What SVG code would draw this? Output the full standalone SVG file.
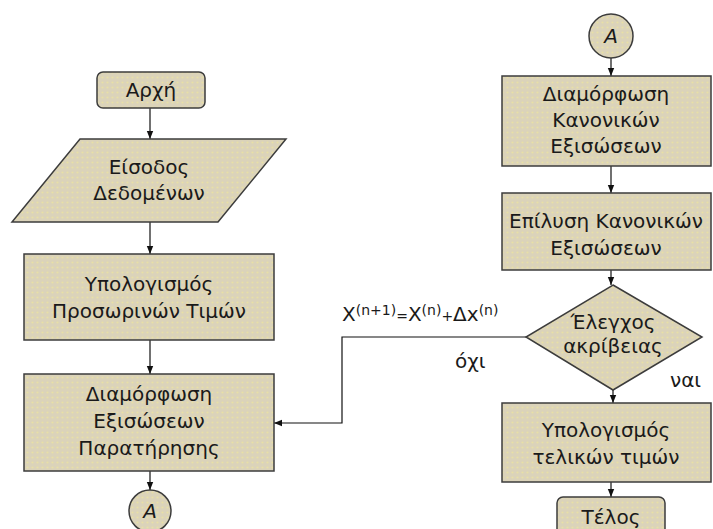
<svg xmlns="http://www.w3.org/2000/svg" width="713" height="529" viewBox="0 0 713 529">
<defs>
<pattern id="dots" width="5" height="5" patternUnits="userSpaceOnUse">
<rect width="5" height="5" fill="#DBD3BA"/>
<circle cx="2.5" cy="2.5" r="1.1" fill="#E8E0A6"/>
</pattern>
<marker id="arr" viewBox="0 0 8 8" refX="8" refY="4" markerWidth="8" markerHeight="8" markerUnits="userSpaceOnUse" orient="auto">
<path d="M0,0.8 L8,4 L0,7.2 z" fill="#111"/>
</marker>
</defs>
<style>
.shape{fill:url(#dots);stroke:#3c3c3c;stroke-width:1.5}
.lbl{font-family:"DejaVu Sans",sans-serif;font-size:20px;fill:#1a1a1a;text-anchor:middle}
.free{font-family:"DejaVu Sans",sans-serif;font-size:20px;fill:#1a1a1a}
.sup{font-size:14px}
.conn{fill:none;stroke:#111;stroke-width:1.2}
</style>
<rect width="713" height="529" fill="#fff"/>

<g id="connectors">
<path class="conn" d="M150,108 V139" marker-end="url(#arr)"/>
<path class="conn" d="M150,222 V254" marker-end="url(#arr)"/>
<path class="conn" d="M150,340 V374" marker-end="url(#arr)"/>
<path class="conn" d="M150,471 V490" marker-end="url(#arr)"/>
<path class="conn" d="M611,58 V76" marker-end="url(#arr)"/>
<path class="conn" d="M611,166 V193" marker-end="url(#arr)"/>
<path class="conn" d="M611,270 V285" marker-end="url(#arr)"/>
<path class="conn" d="M613,390 V403" marker-end="url(#arr)"/>
<path class="conn" d="M611,482 V497" marker-end="url(#arr)"/>
<path class="conn" d="M526,337 H342 V423 H274" marker-end="url(#arr)"/>
</g>

<g id="start">
<rect class="shape" x="97" y="72" width="108" height="36" rx="6"/>
<text class="lbl" x="151" y="97">Αρχή</text>
</g>

<g id="input">
<polygon class="shape" points="80,139 286,139 218,222 12,222"/>
<text class="lbl" x="149" y="174">Είσοδος</text>
<text class="lbl" x="149" y="200">Δεδομένων</text>
</g>

<g id="approx">
<rect class="shape" x="24" y="254" width="250" height="86"/>
<text class="lbl" x="149" y="291">Υπολογισμός</text>
<text class="lbl" x="149" y="318">Προσωρινών Τιμών</text>
</g>

<g id="obs">
<rect class="shape" x="24" y="374" width="250" height="97"/>
<text class="lbl" x="149" y="401">Διαμόρφωση</text>
<text class="lbl" x="149" y="428">Εξισώσεων</text>
<text class="lbl" x="149" y="455">Παρατήρησης</text>
</g>

<g id="connA1">
<circle class="shape" cx="150" cy="511" r="21"/>
<text class="lbl" x="150" y="518" font-style="italic">A</text>
</g>

<g id="connA2">
<circle class="shape" cx="611" cy="36" r="22"/>
<text class="lbl" x="611" y="43" font-style="italic">A</text>
</g>

<g id="normal">
<rect class="shape" x="502" y="76" width="209" height="90"/>
<text class="lbl" x="606" y="101">Διαμόρφωση</text>
<text class="lbl" x="606" y="127">Κανονικών</text>
<text class="lbl" x="606" y="153">Εξισώσεων</text>
</g>

<g id="solve">
<rect class="shape" x="502" y="193" width="209" height="77"/>
<text class="lbl" x="606" y="228">Επίλυση Κανονικών</text>
<text class="lbl" x="606" y="255">Εξισώσεων</text>
</g>

<g id="check">
<polygon class="shape" points="613,285 702,337 613,390 526,337"/>
<text class="lbl" x="613" y="329">Έλεγχος</text>
<text class="lbl" x="613" y="353">ακρίβειας</text>
</g>

<g id="final">
<rect class="shape" x="502" y="403" width="209" height="79"/>
<text class="lbl" x="606" y="437">Υπολογισμός</text>
<text class="lbl" x="606" y="464">τελικών τιμών</text>
</g>

<g id="end">
<rect class="shape" x="557" y="497" width="108" height="38" rx="6"/>
<text class="lbl" x="611" y="524">Τέλος</text>
</g>

<g id="labels">
<text class="free" x="342" y="321" font-size="21">X<tspan class="sup" dy="-6">(n+1)</tspan><tspan class="sup" dy="6">=</tspan>X<tspan class="sup" dy="-6">(n)</tspan><tspan class="sup" dy="6">+</tspan>Δx<tspan class="sup" dy="-6">(n)</tspan></text>
<text class="free" x="455" y="368">όχι</text>
<text class="free" x="670" y="387">ναι</text>
</g>
</svg>
